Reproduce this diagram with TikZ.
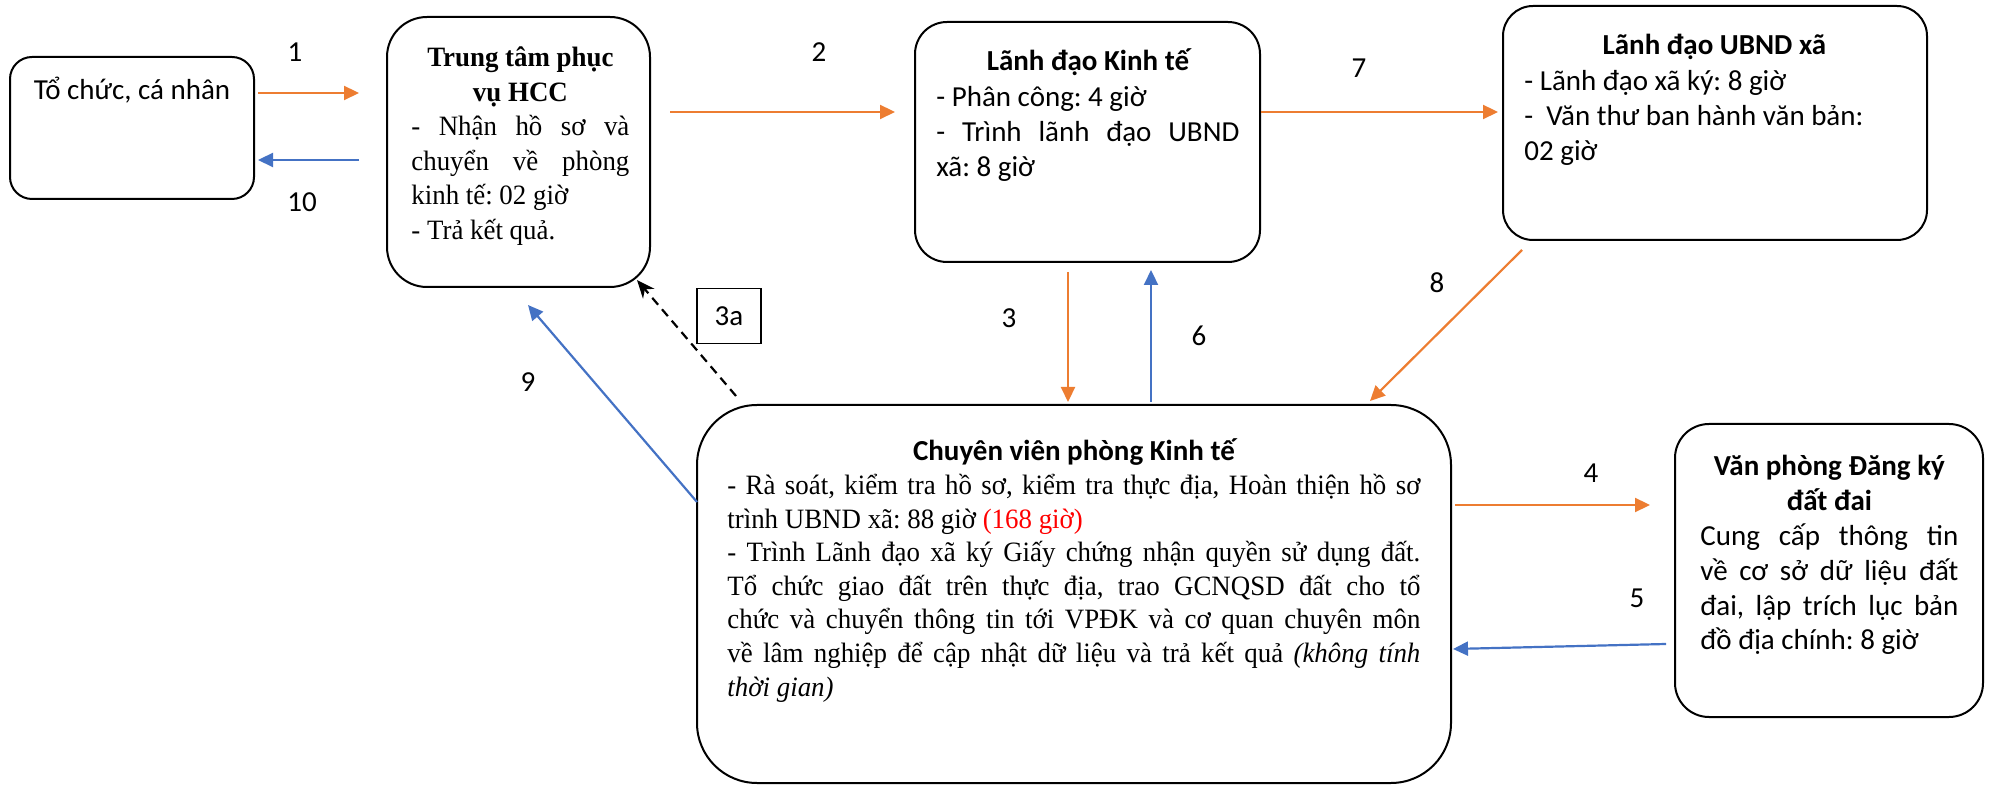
\documentclass[tikz,border=0pt]{standalone}
\usepackage{fontspec}
\setmainfont[FakeStretch=0.96]{Liberation Serif}
\setsansfont{Carlito}
\usetikzlibrary{arrows.meta}
\definecolor{arrorange}{HTML}{ED7D31}
\definecolor{arrblue}{HTML}{4472C4}
\setlength{\parindent}{0pt}
\frenchspacing
\begin{document}
\begin{tikzpicture}[x=0.5pt,y=-0.5pt,
  panel/.style={draw,line width=1pt,rounded corners=#1,inner sep=0pt},
  panel/.default=16pt,
  sanstext/.style={inner sep=0pt,align=justify,font=\sffamily\fontsize{14.5}{17.6}\selectfont},
  seriftext/.style={inner sep=0pt,align=justify,font=\rmfamily\fontsize{14}{17.25}\selectfont},
  num/.style={inner sep=0pt,font=\sffamily\fontsize{14.5}{17}\selectfont},
  go/.style={draw=arrorange,line width=1.1pt,-{Triangle[length=7.5pt,width=7pt]}},
  back/.style={draw=arrblue,line width=1.1pt,-{Triangle[length=7.5pt,width=7pt]}}]
\useasboundingbox (0,0) rectangle (1992,785);
%boxes
\node[panel=11pt,minimum width=122pt,minimum height=71pt] (org) at (132,128) {};
\node[sanstext,anchor=base] (orgtxt) at (132,100) {Tổ chức, cá nhân};
\node[panel=20pt,minimum width=131.5pt,minimum height=135pt] (hcc) at (518.5,152) {};
\node[seriftext,anchor=base west,text width=109pt] (hcctxt) at (411,67) {{\centering\bfseries Trung tâm phục\par vụ HCC\par}
- Nhận hồ sơ và\linebreak chuyển về phòng\linebreak kinh tế: 02 giờ\par
- Trả kết quả.};
\node[panel=16pt,minimum width=172.5pt,minimum height=120pt] (kt) at (1087.5,142) {};
\node[sanstext,anchor=base west,text width=151.5pt] (kttxt) at (936,71) {{\centering\bfseries Lãnh đạo Kinh tế\par}
- Phân công: 4 giờ\par
- Trình lãnh đạo UBND\linebreak xã: 8 giờ};
\node[panel=15pt,minimum width=212pt,minimum height=117pt] (ubnd) at (1715,123) {};
\node[sanstext,anchor=base west,text width=190pt] (ubndtxt) at (1524,55) {{\centering\bfseries Lãnh đạo UBND xã\par}
- Lãnh đạo xã ký: 8 giờ\par
-\ \ Văn thư ban hành văn bản:\newline 02 giờ};
\node[panel=30pt,minimum width=377pt,minimum height=189pt] (cv) at (1074,594) {};
\node[seriftext,anchor=base west,text width=346.5pt,font=\rmfamily\fontsize{14}{16.8}\selectfont] (cvtxt) at (727,461) {{\centering\sffamily\bfseries\fontsize{14.5}{17.5}\selectfont Chuyên viên phòng Kinh tế\par}
- Rà soát, kiểm tra hồ sơ, kiểm tra thực địa, Hoàn thiện hồ sơ\linebreak trình UBND xã: 88 giờ \textcolor{red}{(168 giờ)}\par
- Trình Lãnh đạo xã ký Giấy chứng nhận quyền sử dụng đất.\linebreak Tổ chức giao đất trên thực địa, trao GCNQSD đất cho tổ\linebreak chức và chuyển thông tin tới VPĐK và cơ quan chuyên môn\linebreak về lâm nghiệp để cập nhật dữ liệu và trả kết quả \textit{(không tính\linebreak thời gian)}};
\node[panel=17pt,minimum width=154pt,minimum height=146.5pt] (vp) at (1829,570.5) {};
\node[sanstext,anchor=base west,text width=129pt,font=\sffamily\fontsize{14.5}{17.4}\selectfont] (vptxt) at (1700,476) {{\centering\bfseries Văn phòng Đăng ký\par đất đai\par}
Cung cấp thông tin\linebreak về cơ sở dữ liệu đất\linebreak đai, lập trích lục bản\linebreak đồ địa chính: 8 giờ};
%step numbers
\node[num] (n1) at (295,52) {1};
\node[num] (n10) at (302,202) {10};
\node[num] (n2) at (819,52) {2};
\node[num] (n7) at (1359,68) {7};
\node[num] (n3) at (1009,318) {3};
\node[num] (n6) at (1199,336) {6};
\node[num] (n8) at (1437,283) {8};
\node[num] (n9) at (528,382) {9};
\node[num] (n4) at (1591,473) {4};
\node[num] (n5) at (1637,598) {5};
\node[num,draw,line width=0.8pt,minimum width=32pt,minimum height=27.5pt] (n3a) at (729,316) {3a};
%arrows
\draw[go] ([shift={(3,-35)}]org.east) -- ([shift={(-27,-59)}]hcc.west);
\draw[back] ([shift={(-27,8)}]hcc.west) -- ([shift={(3,32)}]org.east);
\draw[go] ([shift={(19,-40)}]hcc.east) -- ([shift={(-19,-30)}]kt.west);
\draw[go] ([shift={(0,-30)}]kt.east) -- ([shift={(-4,-11)}]ubnd.west);
\draw[go] ([shift={(-19.5,9)}]kt.south) -- ([shift={(-6,-2)}]cv.north);
\draw[back] ([shift={(77,-2)}]cv.north) -- ([shift={(63.5,7)}]kt.south);
\draw[go] ([shift={(-193,9)}]ubnd.south) -- ([shift={(296,-3)}]cv.north);
\draw[line width=1.1pt,dash pattern=on 4.5pt off 3pt,-{Stealth[length=9pt,width=7.5pt]}] ([shift={(40,-8)}]cv.north west) -- ([shift={(-14,-8)}]hcc.south east);
\draw[back] ([shift={(1,-92)}]cv.west) -- ([shift={(9.5,17)}]hcc.south);
\draw[go] ([shift={(3,-89)}]cv.east) -- ([shift={(-24,-65.5)}]vp.west);
\draw[back] ([shift={(-8,73.5)}]vp.west) -- ([shift={(1,55)}]cv.east);
\end{tikzpicture}
\end{document}
